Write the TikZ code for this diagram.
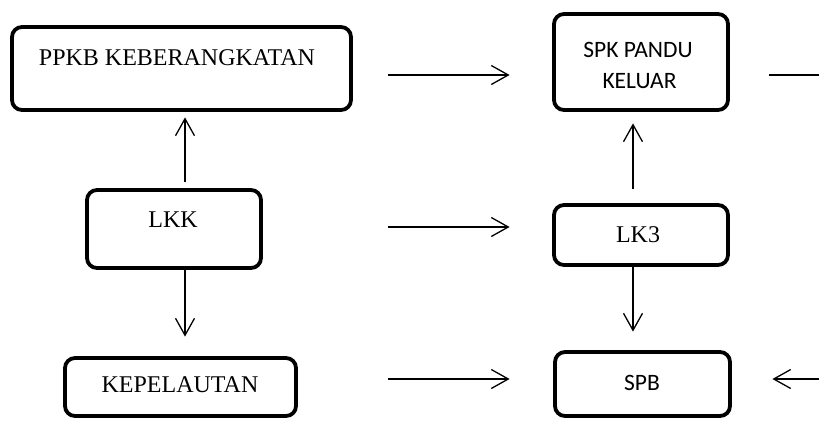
\documentclass[tikz,border=0pt]{standalone}
\usepackage{fontspec}
\setmainfont{Liberation Serif}
\newfontfamily\sansf{Carlito}
\usetikzlibrary{arrows.meta}
\begin{document}
\begin{tikzpicture}[x=1pt,y=-1pt,
  box/.style={draw=black,line width=3.8pt,rounded corners=10pt,inner sep=0pt,fill=white},
  serif/.style={inner sep=0pt,anchor=base,font=\fontsize{24}{28}\selectfont},
  sanstxt/.style={inner sep=0pt,anchor=base,font=\sansf\fontsize{23.5}{31}\selectfont},
  arr/.style={line width=1.3pt,-{Straight Barb[length=17pt,width=19pt]}},
  plain/.style={line width=1.3pt}]
\useasboundingbox (0,0) rectangle (819,421);
% boxes
\node[box,minimum width=339pt,minimum height=83pt] (ppkb) at (181.5,68.5) {};
\node[box,minimum width=174pt,minimum height=96pt] (spk) at (641,62) {};
\node[box,minimum width=174pt,minimum height=78pt] (lkk) at (174,229) {};
\node[box,minimum width=174pt,minimum height=60pt] (lk3) at (641,235) {};
\node[box,minimum width=231pt,minimum height=58pt] (kepel) at (180.5,387) {};
\node[box,minimum width=175pt,minimum height=64pt] (spb) at (642.5,384) {};
% texts
\node[serif] (tppkb) at (177,65) {PPKB KEBERANGKATAN};
\node[sanstxt] (tspk1) at (638,57) {SPK PANDU};
\node[sanstxt] (tspk2) at (639.5,88) {KELUAR};
\node[serif] (tlkk) at (173,227) {LKK};
\node[serif] (tlk3) at (638,242) {LK3};
\node[serif] (tkepel) at (180,392) {KEPELAUTAN};
\node[sanstxt] (tspb) at (642,390) {SPB};
% free ends
\coordinate (outtop) at (819,75);
\coordinate (inbot) at (819,379);
% horizontal connectors
\draw[arr,shorten <=35.5pt,shorten >=42.5pt] ([yshift=-6.5pt]ppkb.east) -- ([yshift=-13pt]spk.west);
\draw[plain,shorten <=39.5pt] ([yshift=-13pt]spk.east) -- (outtop);
\draw[arr,shorten <=125.5pt,shorten >=42.5pt] ([yshift=2pt]lkk.east) -- ([yshift=8pt]lk3.west);
\draw[arr,shorten <=90.5pt,shorten >=43.5pt] ([yshift=8pt]kepel.east) -- ([yshift=5pt]spb.west);
\draw[arr,shorten >=40.5pt] (inbot) -- ([yshift=5pt]spb.east);
% vertical connectors
\draw[arr,shorten <=6.5pt,shorten >=5.5pt] ([xshift=11pt]lkk.north) -- ([xshift=3.5pt]ppkb.south);
\draw[arr,shorten >=19.5pt] ([xshift=11pt]lkk.south) -- ([xshift=4.5pt]kepel.north);
\draw[arr,shorten <=14.5pt,shorten >=11.5pt] ([xshift=-8pt]lk3.north) -- ([xshift=-8pt]spk.south);
\draw[arr,shorten >=18.5pt] ([xshift=-8pt]lk3.south) -- ([xshift=-9.5pt]spb.north);
\end{tikzpicture}
\end{document}
